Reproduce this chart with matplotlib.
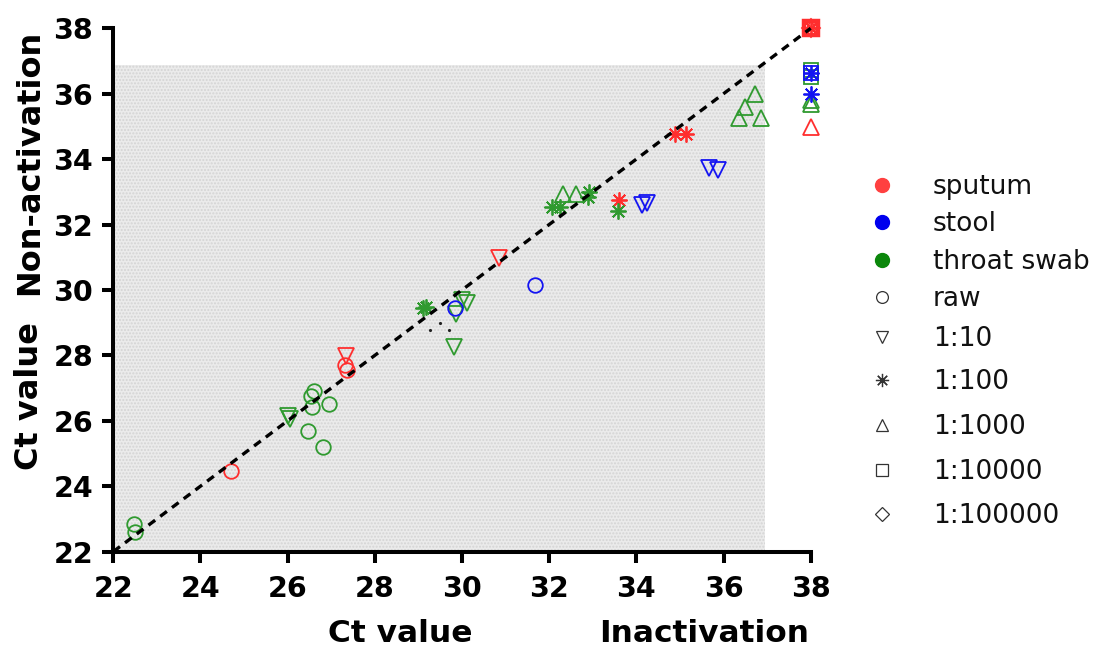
import matplotlib
matplotlib.use('Agg')
import matplotlib.pyplot as plt
from matplotlib.lines import Line2D
from matplotlib.patches import Rectangle

# ---------------- data ----------------
# sputum (red)
sputum_raw_x = [24.69, 27.32, 27.37]
sputum_raw_y = [24.47, 27.70, 27.55]
sputum_10_x = [27.34, 30.85]
sputum_10_y = [27.98, 30.97]
sputum_100_x = [33.61, 34.88, 35.13, 38.0]
sputum_100_y = [32.75, 34.77, 34.77, 38.0]
sputum_1000_x = [38.0, 38.0]
sputum_1000_y = [34.97, 38.0]
sputum_10000_x = [38.0]
sputum_10000_y = [38.0]
sputum_100000_x = [38.0]
sputum_100000_y = [38.0]

# stool (blue)
stool_raw_x = [29.84, 31.67]
stool_raw_y = [29.44, 30.15]
stool_10_x = [34.14, 34.25, 35.67, 35.88]
stool_10_y = [32.60, 32.67, 33.72, 33.67]
stool_100_x = [38.0, 38.0]
stool_100_y = [36.62, 35.99]
stool_10000_x = [38.0]
stool_10000_y = [36.62]

# throat swab (green)
throat_raw_x = [22.47, 22.50, 26.60, 26.53, 26.57, 26.96, 26.46, 26.80]
throat_raw_y = [22.83, 22.59, 26.91, 26.76, 26.41, 26.51, 25.69, 25.21]
throat_10_x = [26.01, 26.06, 29.86, 30.01, 30.12, 29.81]
throat_10_y = [26.15, 26.05, 29.25, 29.69, 29.61, 28.26]
throat_100_x = [29.11, 29.17, 32.06, 32.25, 32.92, 32.90, 33.58]
throat_100_y = [29.44, 29.48, 32.55, 32.55, 33.00, 32.83, 32.42]
throat_1000_x = [32.32, 32.61, 36.72, 36.50, 36.36, 36.87, 38.0, 38.0]
throat_1000_y = [32.93, 32.93, 35.98, 35.60, 35.25, 35.25, 35.80, 35.70]
throat_10000_x = [38.0, 38.0]
throat_10000_y = [36.72, 36.52]

# small dotted marks
dots_x = [29.26, 29.49, 29.71]
dots_y = [28.78, 28.98, 28.79]

sample_labels = ['sputum', 'stool', 'throat swab']
dilution_labels = ['raw', '1:10', '1:100', '1:1000', '1:10000', '1:100000']

# ---------------- style ----------------
RED = '#ff2e2e'
BLUE = '#1414f2'
GREEN = '#2f9a2f'
LEG_COLORS = ['#ff4040', '#0000ee', '#0b870b']
ASTER = (8, 2, 0)
MARKERS = {'raw': 'o', '1:10': 'v', '1:100': ASTER, '1:1000': '^',
           '1:10000': 's', '1:100000': 'D'}
SIZES = {'raw': 10.5, '1:10': 11, '1:100': 11.5, '1:1000': 11.5,
         '1:10000': 10.5, '1:100000': 9}

series = [
    (RED, 'raw', sputum_raw_x, sputum_raw_y),
    (RED, '1:10', sputum_10_x, sputum_10_y),
    (RED, '1:100', sputum_100_x, sputum_100_y),
    (RED, '1:1000', sputum_1000_x, sputum_1000_y),
    (RED, '1:10000', sputum_10000_x, sputum_10000_y),
    (RED, '1:100000', sputum_100000_x, sputum_100000_y),
    (GREEN, 'raw', throat_raw_x, throat_raw_y),
    (GREEN, '1:10', throat_10_x, throat_10_y),
    (GREEN, '1:100', throat_100_x, throat_100_y),
    (GREEN, '1:1000', throat_1000_x, throat_1000_y),
    (GREEN, '1:10000', throat_10000_x, throat_10000_y),
    (BLUE, 'raw', stool_raw_x, stool_raw_y),
    (BLUE, '1:10', stool_10_x, stool_10_y),
    (BLUE, '1:100', stool_100_x, stool_100_y),
    (BLUE, '1:10000', stool_10000_x, stool_10000_y),
]

W, H = 1099, 660
fig = plt.figure(figsize=(W / 100, H / 100), dpi=100)
ax = fig.add_axes([113.3 / W, 1 - 551.6 / H, (810.7 - 113.3) / W, (551.6 - 28.3) / H])

ax.set_xlim(22, 38)
ax.set_ylim(22, 38)

# shaded region
ax.add_patch(Rectangle((22, 22), 36.95 - 22, 36.88 - 22, facecolor='#ebebeb',
                       edgecolor='#d4d4d4', hatch='.....', lw=0, zorder=0))

for color, dil, xs, ys in series:
    mew = 1.3
    if color == RED and dil == '1:10000':
        mew = 3.2
    ax.plot(xs, ys, linestyle='none', marker=MARKERS[dil], ms=SIZES[dil],
            mfc='none', mec=color, mew=mew, clip_on=False, zorder=3)

ax.plot(dots_x, dots_y, linestyle='none', marker='.', ms=2.5, color='#222222', zorder=3)

# identity line
ax.plot([22, 38], [22, 38], color='black', lw=2.4, dashes=(2.5, 1.9), zorder=4,
        clip_on=False)

for s in ['top', 'right']:
    ax.spines[s].set_visible(False)
for s in ['left', 'bottom']:
    ax.spines[s].set_linewidth(2.9)

ticks = list(range(22, 39, 2))
ax.set_xticks(ticks)
ax.set_yticks(ticks)
ax.tick_params(axis='both', direction='out', length=8, width=2.9,
               labelsize=20.5)
ax.tick_params(axis='x', pad=9)
ax.tick_params(axis='y', pad=6.5)
for lab in ax.get_xticklabels() + ax.get_yticklabels():
    lab.set_fontweight('bold')
    lab.set_family('DejaVu Sans')

ax.set_facecolor('none')

def fx(px):
    return px / W

def fy(py):
    return 1 - py / H

# axis titles
fig.text(fx(38), fy(162.5), 'Non-activation', rotation=90, rotation_mode='anchor',
         ha='center', va='baseline', fontsize=23, fontweight='bold')
fig.text(fx(38), fy(396), 'Ct value', rotation=90, rotation_mode='anchor',
         ha='center', va='baseline', fontsize=23, fontweight='bold')
fig.text(fx(400), fy(641.7), 'Ct value', ha='center', va='baseline',
         fontsize=22.5, fontweight='bold')
fig.text(fx(704), fy(641.7), 'Inactivation', ha='center', va='baseline',
         fontsize=22.5, fontweight='bold')

# legend (manual)
leg_y = [185, 222, 260, 297, 337, 380, 425, 470, 514]
leg_labels = sample_labels + dilution_labels
mx, tx = 881.7, 932.7
for i, (lab, yy) in enumerate(zip(leg_labels, leg_y)):
    if i < 3:
        h = Line2D([fx(mx)], [fy(yy)], transform=fig.transFigure, linestyle='none',
                   marker='o', ms=10, mfc=LEG_COLORS[i], mec=LEG_COLORS[i])
    else:
        dil = dilution_labels[i - 3]
        msz = {'raw': 8.5, '1:10': 9, '1:100': 9.5, '1:1000': 9,
               '1:10000': 8.5, '1:100000': 7}[dil]
        h = Line2D([fx(mx)], [fy(yy)], transform=fig.transFigure, linestyle='none',
                   marker=MARKERS[dil], ms=msz, mfc='none', mec='#333333', mew=0.9)
    fig.add_artist(h)
    fig.text(fx(tx), fy(yy + 9.2), lab, ha='left', va='baseline', fontsize=19,
             color='#111111')

fig.savefig('out.png', dpi=100)
